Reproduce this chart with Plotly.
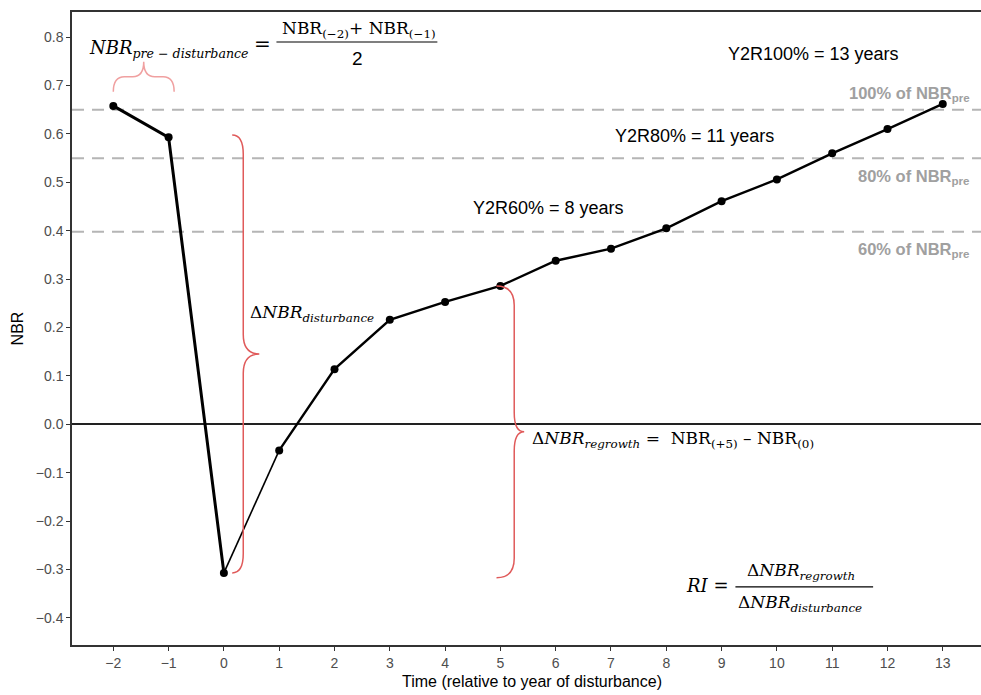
import plotly.graph_objects as go

# ---------------- data ----------------
years = list(range(-2, 14))
nbr = [0.658, 0.593, -0.307, -0.054, 0.114, 0.216, 0.253, 0.286, 0.338,
       0.363, 0.405, 0.461, 0.506, 0.560, 0.610, 0.662]

ref_levels = [0.650, 0.550, 0.398]
ref_labels = ["100%", "80%", "60%"]
y2r_labels = ["Y2R100% = 13 years", "Y2R80% = 11 years", "Y2R60% = 8 years"]

x_ticks = list(range(-2, 14))
y_ticks = [round(-0.4 + 0.1 * i, 1) for i in range(13)]

SANS = "Liberation Sans, Arial, sans-serif"
SERIF = "DejaVu Serif, Liberation Serif, serif"
RED = "#e05a5a"
LIGHTRED = "#f0a0a0"

fig = go.Figure()

# line segments (different widths as in the reference)
segs = [(0, 3, 3.0), (2, 4, 1.6), (3, 16, 2.4)]
for a, b, w in segs:
    fig.add_trace(go.Scatter(x=years[a:b], y=nbr[a:b], mode="lines",
                             line=dict(color="black", width=w),
                             hoverinfo="skip", showlegend=False))
fig.add_trace(go.Scatter(x=years, y=nbr, mode="markers",
                         marker=dict(color="black", size=8),
                         hoverinfo="skip", showlegend=False))

shapes = []
# reference dashed lines
for lv in ref_levels:
    shapes.append(dict(type="line", xref="paper", x0=0, x1=1, yref="y", y0=lv, y1=lv,
                       line=dict(color="#b5b5b5", width=2, dash="12px,8px"), layer="below"))


def vbrace(xe, xs, xt, ytop, ybot, d):
    ym = (ytop + ybot) / 2
    return (f"M {xe},{ytop} Q {xs},{ytop} {xs},{ytop-d} L {xs},{ym+d} "
            f"Q {xs},{ym} {xt},{ym} Q {xs},{ym} {xs},{ym-d} L {xs},{ybot+d} "
            f"Q {xs},{ybot} {xe},{ybot}")


def hbrace(x0, x1, ye, ys, yt, d):
    xm = (x0 + x1) / 2
    return (f"M {x0},{ye} Q {x0},{ys} {x0+d},{ys} L {xm-d},{ys} "
            f"Q {xm},{ys} {xm},{yt} Q {xm},{ys} {xm+d},{ys} L {x1-d},{ys} "
            f"Q {x1},{ys} {x1},{ye}")


# pre-disturbance brace
shapes.append(dict(type="path", xref="x", yref="y",
                   path=hbrace(years[0], years[1] + 0.1, 0.687, 0.718, 0.749, 0.2),
                   line=dict(color=LIGHTRED, width=1.5)))
# disturbance brace
shapes.append(dict(type="path", xref="x", yref="y",
                   path=vbrace(0.15, 0.35, 0.64, nbr[1] + 0.005, nbr[2], 0.04),
                   line=dict(color=RED, width=1.5)))
# regrowth brace
shapes.append(dict(type="path", xref="x", yref="y",
                   path=vbrace(4.93, 5.25, 5.43, nbr[7], nbr[2] - 0.01, 0.04),
                   line=dict(color=RED, width=1.5)))
# fraction bars
shapes.append(dict(type="line", xref="x", yref="y", x0=0.95, x1=3.86, y0=0.790, y1=0.790,
                   line=dict(color="black", width=1.2)))
shapes.append(dict(type="line", xref="x", yref="y", x0=9.25, x1=11.74, y0=-0.336, y1=-0.336,
                   line=dict(color="black", width=1.2)))

ann = []


def add(text, x, y, font, size, color="black", xanchor="center", yanchor="middle"):
    ann.append(dict(text=text, x=x, y=y, xref="x", yref="y", showarrow=False,
                    xanchor=xanchor, yanchor=yanchor,
                    font=dict(family=font, size=size, color=color)))


# Y2R texts
add(y2r_labels[0], 10.66, 0.766, SANS, 18)
add(y2r_labels[1], 8.51, 0.595, SANS, 18)
add(y2r_labels[2], 5.87, 0.448, SANS, 18)

# reference line labels
for lv, lab, yy in zip(ref_levels, ref_labels, [0.682, 0.512, 0.360]):
    add(f"<b>{lab} of NBR<sub>pre</sub></b>", 13.52, yy, SANS, 16.5, "#a0a0a0", xanchor="right")

# NBR pre-disturbance formula
add("<i>NBR</i><sub><i>pre − disturbance</i></sub>", -2.47, 0.775, SERIF, 18, xanchor="left")
add("=", 0.69, 0.786, SERIF, 20)
add("NBR<sub>(−2)</sub>+ NBR<sub>(−1)</sub>", 2.45, 0.815, SERIF, 17)
add("2", 2.41, 0.755, SANS, 19)

# Delta NBR disturbance
add("Δ<i>NBR</i><sub><i>disturbance</i></sub>", 0.44, 0.228, SERIF, 17, xanchor="left")

# Delta NBR regrowth
add("Δ<i>NBR</i><sub><i>regrowth</i></sub> =  NBR<sub>(+5)</sub> – NBR<sub>(0)</sub>",
    5.54, -0.032, SERIF, 17, xanchor="left")

# RI
add("<i>RI</i> =", 8.74, -0.334, SERIF, 18)
add("Δ<i>NBR</i><sub><i>regrowth</i></sub>", 10.44, -0.305, SERIF, 17)
add("Δ<i>NBR</i><sub><i>disturbance</i></sub>", 10.42, -0.370, SERIF, 17)

fig.update_layout(
    width=992, height=695,
    margin=dict(l=72, r=0, t=12, b=50),
    plot_bgcolor="white", paper_bgcolor="white",
    shapes=shapes, annotations=ann, showlegend=False,
    font=dict(family=SANS, color="#4d4d4d"),
)
fig.update_xaxes(
    range=[-2.747, 13.89], tickmode="array", tickvals=x_ticks,
    ticks="outside", ticklen=4, tickwidth=1.2, tickcolor="#333333",
    showline=True, linecolor="#333333", linewidth=1.5, mirror=True,
    showgrid=False, zeroline=False,
    tickfont=dict(size=14, color="#4d4d4d", family=SANS),
    title=dict(text="Time (relative to year of disturbance)", standoff=6,
               font=dict(size=16, color="black", family=SANS)),
)
fig.update_yaxes(
    range=[-0.456, 0.852], tickmode="array", tickvals=y_ticks,
    ticktext=[f"{v:.1f}".replace("-", "−") for v in y_ticks],
    ticks="outside", ticklen=4, tickwidth=1.2, tickcolor="#333333",
    showline=True, linecolor="#333333", linewidth=1.5,
    showgrid=False, zeroline=True, zerolinecolor="#222222", zerolinewidth=1.5,
    tickfont=dict(size=14, color="#4d4d4d", family=SANS),
    title=dict(text="NBR", standoff=8, font=dict(size=16, color="black", family=SANS)),
)

fig.write_html(
    "out.html",
    config={"displayModeBar": False},
    post_script="document.body.style.margin='0';document.body.style.overflow='hidden';",
)
